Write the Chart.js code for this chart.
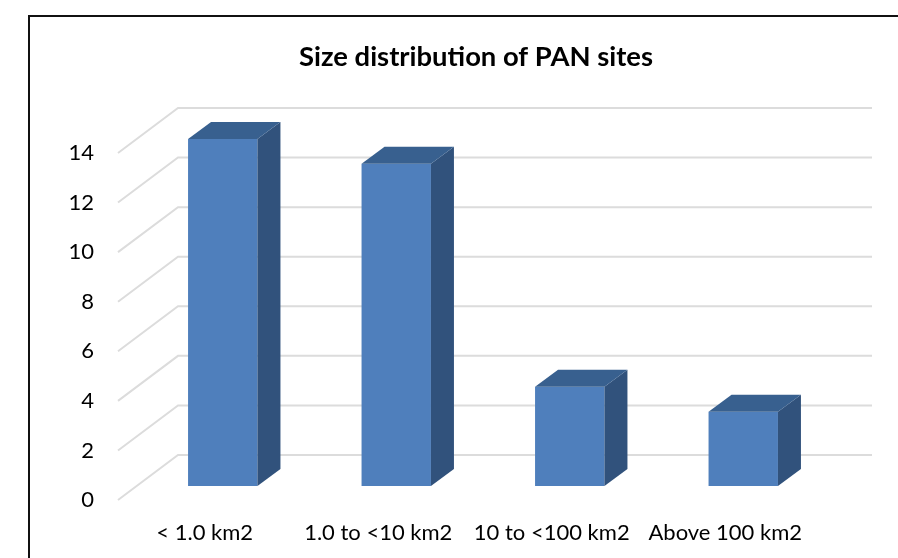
<!DOCTYPE html>
<html><head><meta charset="utf-8">
<script src="https://cdn.jsdelivr.net/npm/chart.js@4"></script>
<style>
html,body{margin:0;padding:0;background:#fff;overflow:hidden;width:898px;height:558px}
#frame{position:absolute;left:28px;top:15px;width:900px;height:600px;border:2px solid #111;box-sizing:border-box}
#wrap{position:absolute;left:54px;top:0;width:844px;height:558px}
</style></head><body>
<div id="frame"></div>
<div id="wrap"><canvas id="c" width="844" height="558"></canvas></div>
<script>
const categories = ["< 1.0 km2", "1.0 to <10 km2", "10 to <100 km2", "Above 100 km2"];
const sites = [14, 13, 4, 3];
const chartTitle = "Size distribution of PAN sites";
const frontColor = "#4f7fbc", sideColor = "#31527c", topColor = "#38608f", gridColor = "#dcdcdc";
const wall = {dx: 60, dy: -45}, barShift = {dx: 18, dy: -14}, barDepth = {dx: 23, dy: -17};

const view3d = {
  id: 'view3d',
  beforeDatasetsDraw(chart) {
    const {ctx, scales: {x, y}} = chart;
    ctx.save();
    ctx.strokeStyle = gridColor; ctx.lineWidth = 2;
    y.ticks.forEach((t, i) => {
      const py = y.getPixelForTick(i);
      ctx.beginPath();
      ctx.moveTo(x.left, py);
      ctx.lineTo(x.left + wall.dx, py + wall.dy);
      ctx.lineTo(x.right + wall.dx, py + wall.dy);
      ctx.stroke();
    });
    ctx.restore();
    ctx.save();
    ctx.translate(barShift.dx, barShift.dy);
  },
  afterDatasetsDraw(chart) {
    const {ctx} = chart;
    chart.getDatasetMeta(0).data.forEach(b => {
      const l = b.x - b.width / 2, r = b.x + b.width / 2;
      ctx.fillStyle = sideColor;
      ctx.beginPath();
      ctx.moveTo(r, b.y); ctx.lineTo(r + barDepth.dx, b.y + barDepth.dy);
      ctx.lineTo(r + barDepth.dx, b.base + barDepth.dy); ctx.lineTo(r, b.base);
      ctx.closePath(); ctx.fill();
      ctx.fillStyle = topColor;
      ctx.beginPath();
      ctx.moveTo(l, b.y); ctx.lineTo(l + barDepth.dx, b.y + barDepth.dy);
      ctx.lineTo(r + barDepth.dx, b.y + barDepth.dy); ctx.lineTo(r, b.y);
      ctx.closePath(); ctx.fill();
    });
    ctx.restore();
  }
};

new Chart(document.getElementById('c'), {
  type: 'bar',
  data: {labels: categories, datasets: [{data: sites, backgroundColor: frontColor, barPercentage: 0.4, categoryPercentage: 1}]},
  options: {
    responsive: false, animation: false,
    layout: {padding: 0},
    plugins: {
      legend: {display: false}, tooltip: {enabled: false},
      title: {display: true, text: chartTitle, color: '#000', font: {family: 'Lato', size: 27.4, weight: 'bold'}, padding: {top: 41, bottom: 79.1}}
    },
    scales: {
      x: {grid: {display: false}, border: {display: false},
          afterFit(s) { s.paddingLeft = 0; s.paddingRight = 86; s.height = 58; },
          ticks: {color: '#000', font: {family: 'Lato', size: 22}, maxRotation: 0, autoSkip: false, padding: 12}},
      y: {min: 0, max: 14, grid: {display: false}, border: {display: false},
          afterFit(s) { s.width = 64; s.paddingTop = 0; s.paddingBottom = 0; },
          ticks: {stepSize: 2, color: '#000', font: {family: 'Lato', size: 22}, padding: 16}}
    }
  },
  plugins: [view3d]
});
</script></body></html>
